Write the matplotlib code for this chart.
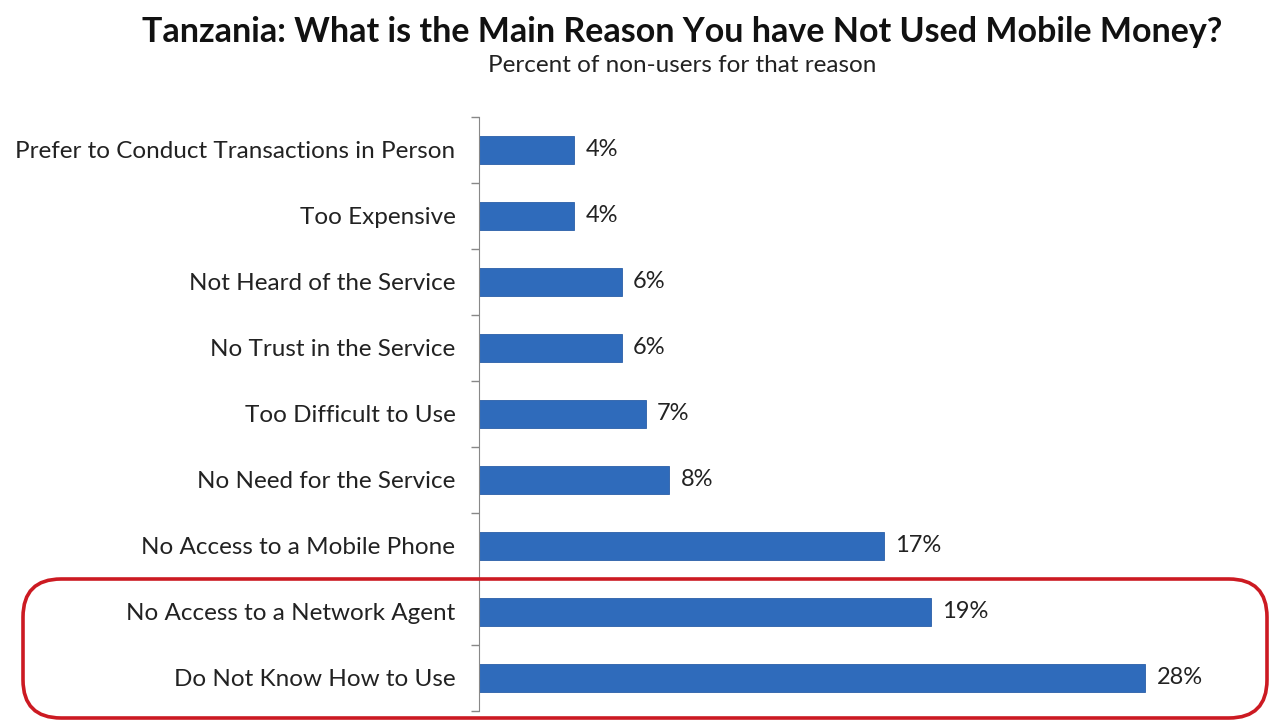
import matplotlib.pyplot as plt
from matplotlib.patches import FancyBboxPatch

reasons = [
    "Prefer to Conduct Transactions in Person",
    "Too Expensive",
    "Not Heard of the Service",
    "No Trust in the Service",
    "Too Difficult to Use",
    "No Need for the Service",
    "No Access to a Mobile Phone",
    "No Access to a Network Agent",
    "Do Not Know How to Use",
]
percent = [4, 4, 6, 6, 7, 8, 17, 19, 28]

plt.rcParams['font.family'] = ['Lato', 'DejaVu Sans']

fig = plt.figure(figsize=(12.7, 7.21), dpi=100)
ax = fig.add_axes([479 / 1270, 1 - 711 / 721, 714 / 1270, 594 / 721])

ypos = list(range(len(reasons)))
ax.barh(ypos, percent, height=0.42, color="#2F6BBB", edgecolor="#2A5FA8", linewidth=0.6)

for y, v in zip(ypos, percent):
    ax.annotate(f"{v}%", (v, y), xytext=(8, 0), textcoords="offset points",
                va="center", ha="left", fontsize=17, color="#222222")

ax.set_xlim(0, 30)
ax.set_ylim(len(reasons) - 0.5, -0.5)
ax.set_yticks(ypos)
ax.set_yticklabels(reasons, fontsize=17.5, color="#222222")
ax.tick_params(axis="y", which="major", length=0, pad=17)
ax.set_yticks([i + 0.5 for i in range(-1, len(reasons))], minor=True)
ax.tick_params(axis="y", which="minor", length=6, color="#888888", width=1)
ax.set_xticks([])
for side in ("top", "right", "bottom"):
    ax.spines[side].set_visible(False)
ax.spines["left"].set_color("#888888")

fig.text(682 / 1270, 1 - 32 / 721, "Tanzania: What is the Main Reason You have Not Used Mobile Money?",
         ha="center", va="center", fontsize=24.5, fontweight="bold", color="#111111")
fig.text(682 / 1270, 1 - 66 / 721, "Percent of non-users for that reason",
         ha="center", va="center", fontsize=17.5, color="#222222")

# highlight box around the two largest reasons
box = FancyBboxPatch((23 / 1270, 1 - 718 / 721), 1244 / 1270, 139 / 721,
                     boxstyle="round,pad=0,rounding_size=0.03",
                     transform=fig.transFigure, fill=False,
                     edgecolor="#CC1A22", linewidth=2.6, mutation_aspect=1270 / 721)
fig.patches.append(box)

fig.savefig("out.png", dpi=100)
